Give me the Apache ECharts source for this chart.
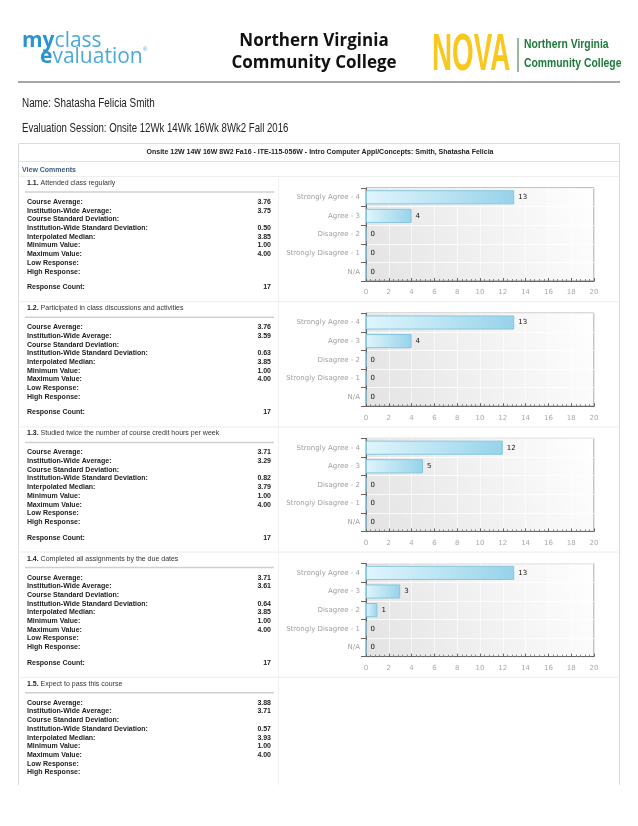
<!DOCTYPE html>
<html>
<head>
<meta charset="utf-8">
<script src="https://cdn.jsdelivr.net/npm/echarts@6/dist/echarts.min.js"></script>
<style>
html,body{margin:0;padding:0;background:#fff;}
#main{width:638px;height:826px;}
</style>
</head>
<body>
<div id="main"></div>
<script>
// ---------- data ----------
const categories = ['Strongly Agree - 4', 'Agree - 3', 'Disagree - 2', 'Strongly Disagree - 1', 'N/A'];
const q1Counts = [13, 4, 0, 0, 0];
const q2Counts = [13, 4, 0, 0, 0];
const q3Counts = [12, 5, 0, 0, 0];
const q4Counts = [13, 3, 1, 0, 0];
const xTickMin = 0, xTickMax = 20, xTickStep = 2;

const questionNumbers = ['1.1.', '1.2.', '1.3.', '1.4.', '1.5.'];
const questionTexts = [
  'Attended class regularly',
  'Participated in class discussions and activities',
  'Studied twice the number of course credit hours per week',
  'Completed all assignments by the due dates',
  'Expect to pass this course'
];
const statLabels = ['Course Average:', 'Institution-Wide Average:', 'Course Standard Deviation:',
  'Institution-Wide Standard Deviation:', 'Interpolated Median:', 'Minimum Value:', 'Maximum Value:',
  'Low Response:', 'High Response:', 'Response Count:'];
const q1Stats = ['3.76', '3.75', '', '0.50', '3.85', '1.00', '4.00', '', '', '17'];
const q2Stats = ['3.76', '3.59', '', '0.63', '3.85', '1.00', '4.00', '', '', '17'];
const q3Stats = ['3.71', '3.29', '', '0.82', '3.79', '1.00', '4.00', '', '', '17'];
const q4Stats = ['3.71', '3.61', '', '0.64', '3.85', '1.00', '4.00', '', '', '17'];
const q5Stats = ['3.88', '3.71', '', '0.57', '3.93', '1.00', '4.00', '', ''];

const headerTitle1 = 'Northern Virginia';
const headerTitle2 = 'Community College';
const nameLine = 'Name: Shatasha Felicia Smith';
const sessionLine = 'Evaluation Session: Onsite 12Wk 14Wk 16Wk 8Wk2 Fall 2016';
const courseLine = 'Onsite 12W 14W 16W 8W2 Fa16 - ITE-115-056W - Intro Computer Appl/Concepts: Smith, Shatasha Felicia';

// ---------- build ----------
const chartCounts = [q1Counts, q2Counts, q3Counts, q4Counts];
const allStats = [q1Stats, q2Stats, q3Stats, q4Stats, q5Stats];
const chart = echarts.init(document.getElementById('main'), null, {renderer: 'canvas'});

const SANS = 'Liberation Sans, Arial, sans-serif';
const g = [];
function txt(text, x, y, opt, extra) {
  g.push(Object.assign({type: 'text', x: x, y: y, silent: true,
    style: Object.assign({text: text, x: 0, y: 0, textVerticalAlign: 'middle', fill: '#222',
      font: '7px ' + SANS}, opt || {})}, extra || {}));
}
function line(x1, y1, x2, y2, stroke, w) {
  g.push({type: 'line', silent: true, shape: {x1: x1, y1: y1, x2: x2, y2: y2},
    style: {stroke: stroke, lineWidth: w || 1}});
}

// logo left
g.push({type: 'text', x: 22, y: 41, silent: true, style: {text: '{a|my}{b|class}', x: 0, y: 0,
  textVerticalAlign: 'middle', fill: '#2e9ad6', font: '21px Open Sans',
  rich: {a: {fontWeight: 'bold', fontSize: 21, fontFamily: 'Open Sans', fill: '#2b93cf'},
         b: {fontSize: 21, fontFamily: 'Open Sans', fill: '#4aa9dd'}}}});
g.push({type: 'text', x: 40, y: 57, silent: true, style: {text: '{a|e}{b|valuation}', x: 0, y: 0,
  textVerticalAlign: 'middle', fill: '#2e9ad6', font: '21px Open Sans',
  rich: {a: {fontWeight: 'bold', fontSize: 21, fontFamily: 'Open Sans', fill: '#2b93cf'},
         b: {fontSize: 21, fontFamily: 'Open Sans', fill: '#4aa9dd'}}}});
txt('®', 143, 49, {font: '6px ' + SANS, fill: '#4aa9dd'});

// center title
txt(headerTitle1, 314, 41, {font: 'bold 17px Open Sans', fill: '#111', textAlign: 'center'});
txt(headerTitle2, 314, 63, {font: 'bold 17px Open Sans', fill: '#111', textAlign: 'center'});

// NOVA logo
txt('NOVA', 432, 56, {font: 'bold 51px Liberation Sans', fill: '#f9c81e'}, {scaleX: 0.545});
line(518, 38, 518, 72, '#2a7a3b', 1);
txt('Northern Virginia', 524, 45, {font: 'bold 12.5px Liberation Sans', fill: '#1f7a3a'}, {scaleX: 0.83});
txt('Community College', 524, 64, {font: 'bold 12.5px Liberation Sans', fill: '#1f7a3a'}, {scaleX: 0.83});

// rule
line(18, 82, 620, 82, '#8a8a8a', 1.5);

// name / session
txt(nameLine, 22, 104, {font: '12.5px Liberation Sans', fill: '#222'}, {scaleX: 0.79});
txt(sessionLine, 22, 129, {font: '12.5px Liberation Sans', fill: '#222'}, {scaleX: 0.77});

// table frame
const FL = 18.5, FR = 619.5, FT = 143.5, FB = 785;
line(FL, FT, FL, FB, '#dcdcdc');
line(FR, FT, FR, FB, '#dcdcdc');
line(FL, FT, FR, FT, '#dcdcdc');
txt(courseLine, 320, 152, {font: 'bold 7px ' + SANS, fill: '#222', textAlign: 'center'});
line(FL, 161.5, FR, 161.5, '#e2e2e2');
txt('View Comments', 22, 170, {font: 'bold 7px ' + SANS, fill: '#3c5a86'});
line(FL, 176.5, FR, 176.5, '#eeeeee');

const BLOCK0 = 176, BLOCKH = 125.2;
const grids = [], xAxes = [], yAxes = [], series = [];
for (let i = 0; i < 5; i++) {
  const bt = BLOCK0 + i * BLOCKH;
  g.push({type: 'text', x: 27, y: bt + 7, silent: true, style: {
    text: '{b|' + questionNumbers[i] + '} ' + questionTexts[i], x: 0, y: 0,
    textVerticalAlign: 'middle', fill: '#333', font: '7px ' + SANS,
    rich: {b: {fontWeight: 'bold', fontSize: 7, fontFamily: SANS, fill: '#222'}}}});
  line(25, bt + 16, 274, bt + 16, '#cfcfcf', 1.5);
  const st = allStats[i];
  for (let r = 0; r < st.length; r++) {
    const y = bt + 26 + r * 8.7 + (r === 9 ? 7 : 0);
    txt(statLabels[r], 27, y, {font: 'bold 7px ' + SANS, fill: '#222'});
    if (st[r] !== '') txt(st[r], 271, y, {font: 'bold 7px ' + SANS, fill: '#222', textAlign: 'right'});
  }
  line(278.5, bt + 0.5, 278.5, Math.min(bt + BLOCKH, FB), '#f0f0f0');
  if (i < 4) line(FL, bt + BLOCKH + 0.5, FR, bt + BLOCKH + 0.5, '#ececec');
}

for (let i = 0; i < chartCounts.length; i++) {
  const top = BLOCK0 + i * BLOCKH + 12;
  grids.push({left: 366, width: 228, top: top, height: 93, show: true,
    borderColor: '#8a8a8a', borderWidth: 1,
    backgroundColor: new echarts.graphic.LinearGradient(0, 1, 1, 0, [
      {offset: 0, color: '#e3e3e3'}, {offset: 1, color: '#ffffff'}])});
  xAxes.push({type: 'value', gridIndex: i, min: xTickMin, max: xTickMax, interval: xTickStep,
    axisLine: {show: true, lineStyle: {color: '#666'}},
    axisTick: {show: true, inside: true, length: 3, lineStyle: {color: '#666'}},
    minorTick: {show: true, splitNumber: 5, length: 2, lineStyle: {color: '#888'}},
    axisLabel: {color: '#a8a8a8', fontSize: 7, fontFamily: 'DejaVu Sans', margin: 8},
    splitLine: {show: true, lineStyle: {color: 'rgba(255,255,255,0.6)'}}});
  yAxes.push({type: 'category', gridIndex: i, data: categories, inverse: true,
    axisLine: {show: true, lineStyle: {color: '#666'}},
    axisTick: {show: true, length: 5, lineStyle: {color: '#666'}},
    axisLabel: {color: '#a0a0a0', fontSize: 7, fontFamily: 'DejaVu Sans', margin: 6},
    splitLine: {show: true, lineStyle: {color: 'rgba(255,255,255,0.8)'}}});
  series.push({type: 'bar', xAxisIndex: i, yAxisIndex: i, data: chartCounts[i],
    barCategoryGap: '24%', silent: true, animation: false,
    itemStyle: {borderColor: '#86c6df', borderWidth: 1,
      color: new echarts.graphic.LinearGradient(0, 0, 1, 0, [
        {offset: 0, color: '#dff5fc'}, {offset: 1, color: '#97d3ea'}])},
    label: {show: true, position: 'right', distance: 4, color: '#111', fontSize: 7,
      fontFamily: 'DejaVu Sans'}});
}

chart.setOption({
  animation: false,
  backgroundColor: '#ffffff',
  grid: grids, xAxis: xAxes, yAxis: yAxes, series: series,
  graphic: {elements: g}
});
</script>
</body>
</html>
